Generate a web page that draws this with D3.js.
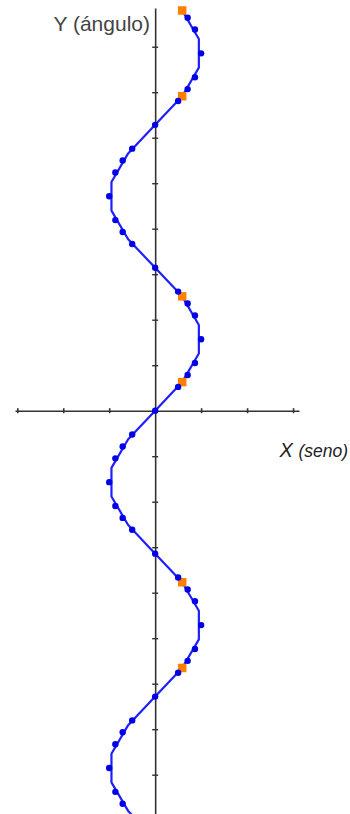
<!DOCTYPE html>
<html>
<head>
<meta charset="utf-8">
<script src="https://cdn.jsdelivr.net/npm/d3@7"></script>
<style>
  html, body { margin: 0; padding: 0; background: #fff; }
  svg { display: block; }
</style>
</head>
<body>
<svg id="chart" width="350" height="814"></svg>
<script>
// Polyline vertices: angle (degrees) and sine value
const lineAngles = [-540, -504, -468, -432, -396, -360, -324, -288, -252, -216,
  -180, -144, -108, -72, -36, 0, 36, 72, 108, 144,
  180, 216, 252, 288, 324, 360, 396, 432, 468, 504];
const lineValues = [0, -0.588, -0.951, -0.951, -0.588, 0, 0.588, 0.951, 0.951, 0.588,
  0, -0.588, -0.951, -0.951, -0.588, 0, 0.588, 0.951, 0.951, 0.588,
  0, -0.588, -0.951, -0.951, -0.588, 0, 0.588, 0.951, 0.951, 0.588];

// Sampled points at the notable angles
const dotAngles = [-495, -480, -450, -420, -405, -390, -360, -330, -315, -300, -270,
  -240, -225, -210, -180, -150, -135, -120, -90, -60, -45, -30, 0,
  30, 45, 60, 90, 120, 135, 150, 180, 210, 225, 240, 270, 300, 315, 330,
  360, 390, 405, 420, 450, 480, 495];
const dotValues = [-0.707, -0.866, -1, -0.866, -0.707, -0.5, 0, 0.5, 0.707, 0.866, 1,
  0.866, 0.707, 0.5, 0, -0.5, -0.707, -0.866, -1, -0.866, -0.707, -0.5, 0,
  0.5, 0.707, 0.866, 1, 0.866, 0.707, 0.5, 0, -0.5, -0.707, -0.866, -1, -0.866, -0.707, -0.5,
  0, 0.5, 0.707, 0.866, 1, 0.866, 0.707];

// Highlighted points
const markAngles = [-324, -216, 36, 144, 396, 504];
const markValues = [0.588, 0.588, 0.588, 0.588, 0.588, 0.588];

// Axis ticks (x in units, y in radians)
const xTicks = [-3, -2, -1, 1, 2, 3];
const yTicks = [-8, -7, -6, -5, -4, -3, -2, -1, 1, 2, 3, 4, 5, 6, 7, 8];

const rad = d => d * Math.PI / 180;

const svg = d3.select("#chart");
const x = d3.scaleLinear().domain([-3.05, 3.13]).range([15, 299]);
const y = d3.scaleLinear().domain([-8.864, 8.851]).range([814, 8]);

const axisColor = "#333";

// Horizontal axis
const gx = svg.append("g").attr("transform", `translate(0,${y(0)})`)
  .call(d3.axisBottom(x).tickValues(xTicks).tickSizeInner(0).tickSizeOuter(0).tickFormat(""));
gx.select(".domain").attr("stroke", axisColor).attr("stroke-width", 1.6);
gx.selectAll(".tick line").attr("y1", -2.5).attr("y2", 2.5)
  .attr("stroke", axisColor).attr("stroke-width", 1.6);

// Vertical axis
const gy = svg.append("g").attr("transform", `translate(${x(0)},0)`)
  .call(d3.axisLeft(y).tickValues(yTicks).tickSizeInner(0).tickSizeOuter(0).tickFormat(""));
gy.select(".domain").attr("stroke", axisColor).attr("stroke-width", 1.6);
gy.selectAll(".tick line").attr("x1", -3).attr("x2", 3)
  .attr("stroke", axisColor).attr("stroke-width", 1.4);

// Sine curve
const linePts = lineAngles.map((a, i) => [lineValues[i], rad(a)]);
svg.append("path")
  .datum(linePts)
  .attr("fill", "none")
  .attr("stroke", "#1f1fff")
  .attr("stroke-width", 2.2)
  .attr("stroke-linejoin", "round")
  .attr("d", d3.line().x(d => x(d[0])).y(d => y(d[1])));

// Highlighted squares
const sq = 8.5;
svg.append("g").selectAll("rect")
  .data(markAngles.map((a, i) => [markValues[i], rad(a)]))
  .join("rect")
  .attr("x", d => x(d[0]) - sq / 2)
  .attr("y", d => y(d[1]) - sq / 2)
  .attr("width", sq).attr("height", sq)
  .attr("fill", "#ff8000");

// Sample dots
svg.append("g").selectAll("circle")
  .data(dotAngles.map((a, i) => [dotValues[i], rad(a)]))
  .join("circle")
  .attr("cx", d => x(d[0]))
  .attr("cy", d => y(d[1]))
  .attr("r", 3.2)
  .attr("fill", "#0000e6");

// Axis titles
svg.append("text")
  .attr("x", 150).attr("y", 31)
  .attr("text-anchor", "end")
  .attr("font-family", "Liberation Sans, Arial, sans-serif")
  .attr("font-size", 21)
  .attr("fill", "#444")
  .text("Y (ángulo)");

const xt = svg.append("text")
  .attr("x", 348).attr("y", 457)
  .attr("text-anchor", "end")
  .attr("font-family", "Liberation Sans, Arial, sans-serif")
  .attr("font-style", "italic")
  .attr("fill", "#222");
xt.append("tspan").attr("font-size", 20).text("X ");
xt.append("tspan").attr("font-size", 17.5).text("(seno)");
</script>
</body>
</html>
